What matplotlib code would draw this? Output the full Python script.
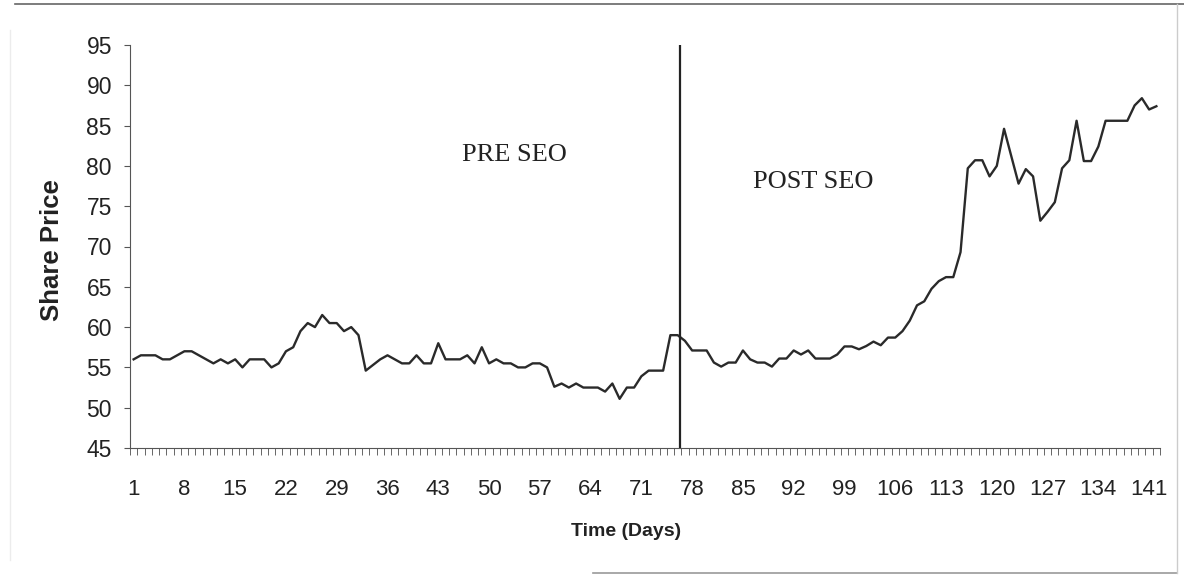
import numpy as np
import matplotlib
matplotlib.use('Agg')
import matplotlib.pyplot as plt
from matplotlib.lines import Line2D

# share price per trading day
days = list(range(1, 143))
prices = [
    56.0, 56.5, 56.5, 56.5, 56.0, 56.0, 56.5, 57.0, 57.0, 56.5,
    56.0, 55.5, 56.0, 55.5, 56.0, 55.0, 56.0, 56.0, 56.0, 55.0,
    55.5, 57.0, 57.5, 59.5, 60.5, 60.0, 61.5, 60.5, 60.5, 59.5,
    60.0, 59.0, 54.6, 55.3,
    56.0, 56.5, 56.0, 55.5, 55.5, 56.5, 55.5, 55.5, 58.0, 56.0,
    56.0, 56.0, 56.5, 55.5, 57.5, 55.5, 56.0, 55.5, 55.5, 55.0,
    55.0, 55.5, 55.5, 55.0, 52.6, 53.0, 52.5, 53.0, 52.5, 52.5,
    52.5, 52.0,
    53.0, 51.1, 52.5, 52.5, 53.9, 54.6, 54.6, 54.6, 59.0, 59.0,
    58.3, 57.1, 57.1, 57.1, 55.6, 55.1, 55.6, 55.6, 57.1, 56.0,
    55.6, 55.6, 55.1, 56.1, 56.1, 57.1, 56.6, 57.1, 56.1, 56.1,
    56.1, 56.6, 57.6, 57.6,
    57.25, 57.65, 58.2, 57.75, 58.7, 58.7, 59.5, 60.8, 62.7, 63.2,
    64.75, 65.7, 66.2, 66.2, 69.3, 79.7, 80.7, 80.7, 78.7, 80.0,
    84.6, 81.2, 77.8, 79.6, 78.7, 73.2, 74.3, 75.5, 79.7, 80.7,
    85.6, 80.6, 80.6, 82.4, 85.6, 85.6, 85.6, 85.6, 87.5, 88.4,
    87.0, 87.4,
]
tickDays = list(range(1, 142, 7))
yTicks = list(range(45, 100, 5))
seoDay = 76.3

fig = plt.figure(figsize=(11.84, 5.76), dpi=100)
ax = fig.add_axes([130 / 1184, 128 / 576, 1030 / 1184, 403 / 576])

ax.plot(days, prices, color='#2a2a2a', linewidth=1.7)
ax.axvline(seoDay, color='#222222', linewidth=1.6)

ax.set_xlim(0.5, 142.5)
ax.set_ylim(45, 95)

ax.spines['top'].set_visible(False)
ax.spines['right'].set_visible(False)
ax.spines['left'].set_color('#555555')
ax.spines['bottom'].set_color('#555555')

ax.set_yticks(yTicks)
ax.set_yticklabels([str(v) for v in yTicks], fontsize=16.5, color='#222222',
                   family='Liberation Sans')
ax.tick_params(axis='y', direction='out', length=4, width=0.8,
               color='#555555', pad=9)

# labels every 7 days, small tick marks between every category
ax.set_xticks(tickDays)
ax.set_xticklabels([str(d) for d in tickDays], fontsize=16, color='#222222',
                   family='Liberation Sans')
ax.tick_params(axis='x', which='major', length=0, pad=22)
ax.set_xticks(np.arange(0.5, 143, 1), minor=True)
ax.tick_params(axis='x', which='minor', direction='out', length=5,
               width=0.7, color='#666666')

ax.text(53.5, 81.3, 'PRE SEO', fontsize=19, family='Liberation Serif',
        color='#222222', ha='center', va='center')
ax.text(94.7, 78.0, 'POST SEO', fontsize=19, family='Liberation Serif',
        color='#222222', ha='center', va='center')

fig.text(52 / 1184, 1 - 250 / 576, 'Share Price', rotation=90, fontsize=18.5,
         fontweight='bold', family='Liberation Sans', color='#222222',
         ha='center', va='center')
fig.text(626 / 1184, 1 - 531 / 576, 'Time (Days)', fontsize=14,
         fontweight='bold', family='Liberation Sans', color='#222222',
         ha='center', va='center')

# faint outer frame from the scan
fig.add_artist(Line2D([15 / 1184, 1], [1 - 4 / 576, 1 - 4 / 576], color='#666666', linewidth=1.2))
fig.add_artist(Line2D([593 / 1184, 1177 / 1184], [1 - 573 / 576, 1 - 573 / 576], color='#999999', linewidth=1.2))
fig.add_artist(Line2D([1177 / 1184, 1177 / 1184], [1 - 573 / 576, 1 - 4 / 576], color='#cccccc', linewidth=1.0))
fig.add_artist(Line2D([10 / 1184, 10 / 1184], [1 - 560 / 576, 1 - 30 / 576], color='#ececec', linewidth=1.0))

fig.savefig('out.png', dpi=100, facecolor='white')
